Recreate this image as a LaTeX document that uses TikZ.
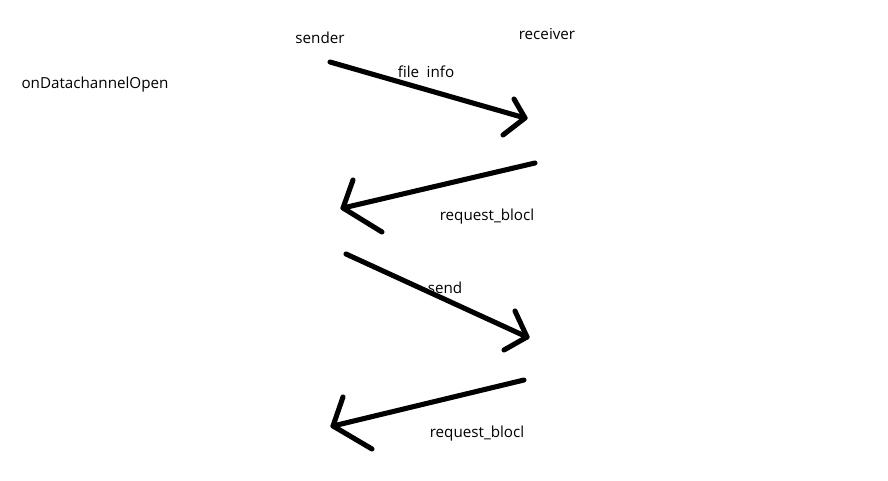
\documentclass[tikz,border=0pt]{standalone}
\usepackage{fontspec}
\setmainfont{Open Sans}
\begin{document}
\begin{tikzpicture}[x=0.75pt,y=-0.75pt,
  stroke/.style={line width=3.8pt,line cap=round,line join=round},
  lbl/.style={font=\fontsize{11.4}{13.5}\selectfont,inner sep=0pt,text=black}]
\useasboundingbox (0,0) rectangle (888,481);
% labels
\node[lbl] (sender) at (320,38) {sender};
\node[lbl] (receiver) at (547,34) {receiver};
\node[lbl] (open) at (95,85) {onDatachannelOpen};
\node[lbl] (fileinfo) at (426,72) {file\hspace{0.5em}info};
\node[lbl] (req1) at (487,217) {request\_blocl};
\node[lbl] (send) at (445,288) {send};
\node[lbl] (req2) at (477,434) {request\_blocl};
% arrow 1
\coordinate (a1s) at (330,62);
\coordinate (a1t) at (525,118);
\coordinate (a1u) at (514,99);
\coordinate (a1d) at (503,135);
\draw[stroke] (a1s) -- (a1t);
\draw[stroke] (a1u) -- (a1t) -- (a1d);
% arrow 2
\coordinate (a2s) at (535,163);
\coordinate (a2t) at (343,208);
\coordinate (a2u) at (353,180);
\coordinate (a2d) at (382,232);
\draw[stroke] (a2s) -- (a2t);
\draw[stroke] (a2u) -- (a2t) -- (a2d);
% arrow 3
\coordinate (a3s) at (346,254);
\coordinate (a3t) at (527,337);
\coordinate (a3u) at (515,311);
\coordinate (a3d) at (504,350);
\draw[stroke] (a3s) -- (a3t);
\draw[stroke] (a3u) -- (a3t) -- (a3d);
% arrow 4
\coordinate (a4s) at (524,380);
\coordinate (a4t) at (333,426);
\coordinate (a4u) at (343,397);
\coordinate (a4d) at (372,449);
\draw[stroke] (a4s) -- (a4t);
\draw[stroke] (a4u) -- (a4t) -- (a4d);
\end{tikzpicture}
\end{document}
